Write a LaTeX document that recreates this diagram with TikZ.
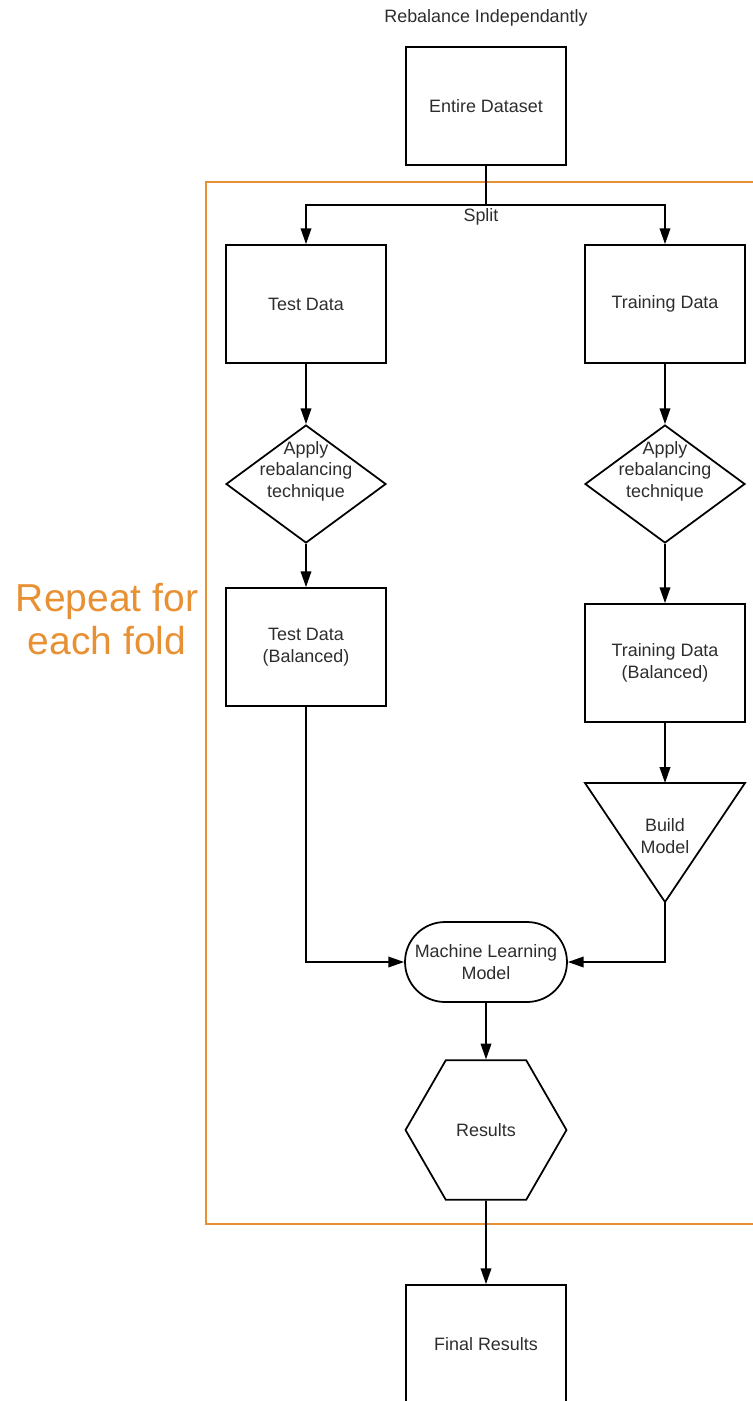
\documentclass[tikz,border=0pt]{standalone}
\usepackage{fontspec}
\setmainfont{Liberation Sans}
\usetikzlibrary{shapes.geometric,arrows.meta}
\definecolor{foldorange}{RGB}{232,145,52}
\definecolor{txtgray}{RGB}{45,45,45}

\begin{document}
\begin{tikzpicture}[x=0.02cm, y=-0.02cm,
    every node/.style={font=\fontsize{10.2}{12.2}\selectfont, text=txtgray},
    box/.style={draw=black, line width=1pt, minimum width=3.2cm, minimum height=2.36cm, inner sep=0pt, align=center},
    choice/.style={draw=black, diamond, line width=1pt, minimum width=3.2cm, minimum height=2.36cm, inner sep=0pt},
    txt/.style={align=center, inner sep=0pt},
    arr/.style={line width=1pt, -{Triangle[length=9pt,width=6pt]}}]
    \useasboundingbox (0,0) rectangle (753,1401);

    % Frame for the folds
    \draw[foldorange, line width=1.1pt] (206,182) rectangle (775,1224);
    \node[text=foldorange, font=\fontsize{22.2}{24.4}\selectfont, align=center] (repeat) at (107,619) {Repeat for\\each fold};

    % Title and whole dataset
    \node[txt] (title) at (486,18) {Rebalance Independantly};
    \node[box] (entire) at (486,106) {Entire Dataset};

    % Split into test and training data
    \coordinate (split) at (486,205);
    \node[txt] (splitlbl) at (481,217) {Split};
    \node[box] (test) at (306,304) {Test Data};
    \node[box] (train) at (665,304) {Training Data};

    % Rebalancing on each side
    \node[choice] (applyL) at (306,484) {};
    \node[txt] (applyLtxt) at (306,471) {Apply\\rebalancing\\technique};
    \node[choice] (applyR) at (665,484) {};
    \node[txt] (applyRtxt) at (665,471) {Apply\\rebalancing\\technique};

    % Balanced data
    \node[box] (testB) at (306,647) {Test Data\\(Balanced)};
    \node[box] (trainB) at (665,663) {Training Data\\(Balanced)};

    % Build model triangle
    \coordinate (buildTop) at (665,783);
    \draw[line width=1pt] (585,783) -- (745,783) -- (665,902) coordinate (buildApex) -- cycle;
    \node[txt] (buildtxt) at (665,836) {Build\\Model};

    % Model, results and final results
    \node[draw=black, line width=1pt, rounded corners=0.8cm, minimum width=3.24cm, minimum height=1.6cm, inner sep=0pt, align=center] (mlm) at (486,962) {Machine Learning\\Model};
    \node[draw=black, line width=1pt, regular polygon, regular polygon sides=6, minimum size=3.22cm, inner sep=0pt] (results) at (486,1130) {Results};
    \node[box] (final) at (486,1344) {Final Results};

    % Connectors
    \draw[line width=1pt] (entire.south) -- (split);
    \draw[arr] (split) -| (test.north);
    \draw[arr] (split) -| (train.north);
    \draw[arr] (test) -- (applyL);
    \draw[arr] (train) -- (applyR);
    \draw[arr] (applyL) -- (testB);
    \draw[arr] (applyR) -- (trainB);
    \draw[arr] (trainB) -- (buildTop);
    \draw[arr] (testB.south) |- (mlm.west);
    \draw[arr] (buildApex) |- (mlm.east);
    \draw[arr] (mlm) -- (results);
    \draw[arr] (results) -- (final);
  \end{tikzpicture}
\end{document}
